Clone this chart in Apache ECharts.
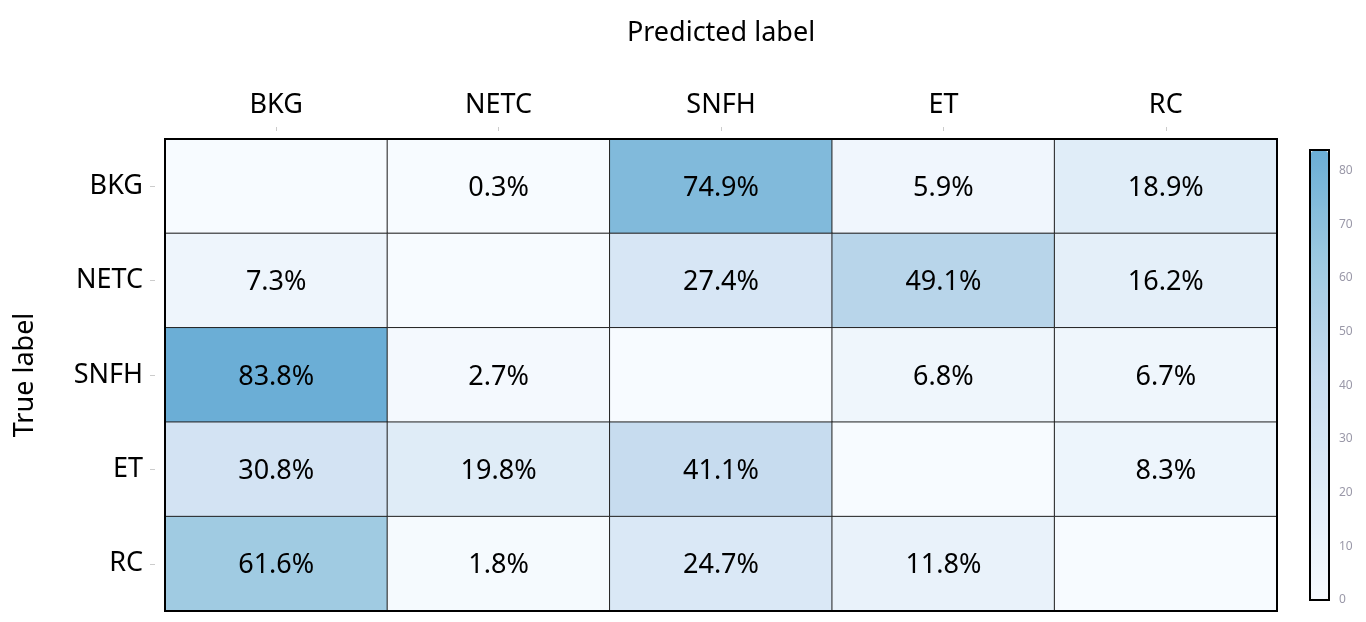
<!DOCTYPE html>
<html>
<head>
<meta charset="utf-8">
<script src="https://cdn.jsdelivr.net/npm/echarts@6/dist/echarts.min.js"></script>
<style>
html,body{margin:0;padding:0;background:#fff;}
#c{width:1366px;height:622px;}
</style>
</head>
<body>
<div id="c"></div>
<script>
const predLabels = ['BKG', 'NETC', 'SNFH', 'ET', 'RC'];
const trueLabels = ['BKG', 'NETC', 'SNFH', 'ET', 'RC'];
const rowBKG  = [0, 0.3, 74.9, 5.9, 18.9];
const rowNETC = [7.3, 0, 27.4, 49.1, 16.2];
const rowSNFH = [83.8, 2.7, 0, 6.8, 6.7];
const rowET   = [30.8, 19.8, 41.1, 0, 8.3];
const rowRC   = [61.6, 1.8, 24.7, 11.8, 0];
const colorbarMax = 83.8;
const colorbarTicks = [0, 10, 20, 30, 40, 50, 60, 70, 80];

const rows = [rowBKG, rowNETC, rowSNFH, rowET, rowRC];
const data = [];
rows.forEach((r, yi) => r.forEach((v, xi) => data.push([xi, yi, v])));

const FONT = 'Noto Sans';
const chart = echarts.init(document.getElementById('c'));
chart.setOption({
  backgroundColor: '#fff',
  animation: false,
  textStyle: { fontFamily: FONT },
  grid: [
    { left: 165, right: 89, top: 139, bottom: 11, show: true, borderColor: '#000', borderWidth: 2, backgroundColor: 'transparent', z: 5 },
    { left: 1310, width: 19, top: 150, height: 450, show: true, borderColor: '#000', borderWidth: 2, backgroundColor: 'transparent', z: 10 }
  ],
  xAxis: [
    {
      type: 'category', data: predLabels, position: 'top', gridIndex: 0, offset: 8,
      axisLine: { show: false },
      axisTick: { show: true, alignWithLabel: true, length: 4, lineStyle: { color: '#ccc' } },
      axisLabel: { fontSize: 27, color: '#000', margin: 12, fontFamily: FONT },
      splitLine: { show: false },
      name: 'Predicted label', nameLocation: 'middle', nameGap: 84,
      nameTextStyle: { fontSize: 27, color: '#000', fontFamily: FONT }
    },
    { type: 'value', gridIndex: 1, show: false, min: 0, max: 1 }
  ],
  yAxis: [
    {
      type: 'category', data: trueLabels, inverse: true, gridIndex: 0, offset: 10,
      axisLine: { show: false },
      axisTick: { show: true, alignWithLabel: true, length: 5, lineStyle: { color: '#ccc' } },
      axisLabel: { fontSize: 27, color: '#000', margin: 12, fontFamily: FONT, padding: [6, 0, 0, 0] },
      splitLine: { show: false },
      name: 'True label', nameLocation: 'middle', nameGap: 116, nameRotate: 90,
      nameTextStyle: { fontSize: 27, color: '#000', fontFamily: FONT }
    },
    {
      type: 'value', gridIndex: 1, position: 'right', min: 0, max: colorbarMax, interval: 10,
      axisLine: { show: false },
      axisTick: { show: true, length: 5, lineStyle: { color: '#555' } },
      axisLabel: { fontSize: 12, color: '#9a98a8', margin: 10, fontFamily: FONT,
        customValues: colorbarTicks },
      splitLine: { show: false }
    }
  ],
  visualMap: {
    type: 'continuous', min: 0, max: colorbarMax, seriesIndex: 0,
    calculable: false, orient: 'vertical', left: 1311, top: 151,
    itemWidth: 17, itemHeight: 448, padding: 0, text: null, showLabel: false,
    inRange: { color: ['#f7fbff', '#deebf7', '#c6dbef', '#9ecae1', '#6baed6'] }
  },
  series: [
    {
      type: 'heatmap', xAxisIndex: 0, yAxisIndex: 0, data: data,
      itemStyle: { borderColor: '#222', borderWidth: 1 },
      label: {
        show: true, fontSize: 27, color: '#000', fontFamily: FONT, offset: [0, 2],
        formatter: p => (p.data[0] === p.data[1] ? '' : p.data[2].toFixed(1) + '%')
      },
      emphasis: { disabled: true }
    }
  ]
});
</script>
</body>
</html>
